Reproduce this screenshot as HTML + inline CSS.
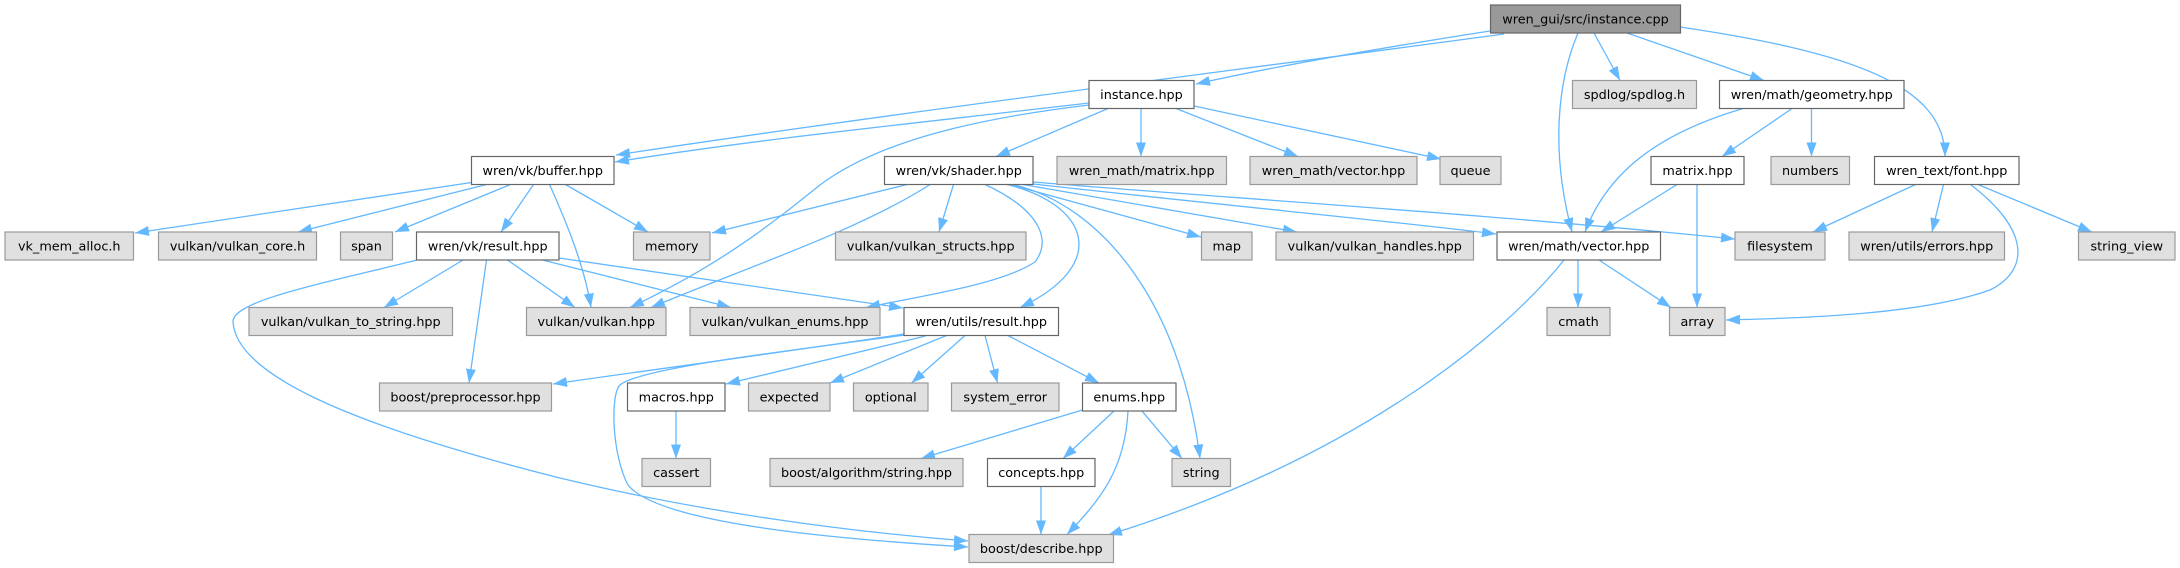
<!DOCTYPE html>
<html><head><meta charset="utf-8"><style>
html,body{margin:0;padding:0;background:#fff;}
svg{display:block;}
text{font-family:"DejaVu Sans","Liberation Sans",sans-serif;font-size:12.8px;fill:#000;text-anchor:middle;}
.w{fill:#fff;stroke:#666;stroke-width:1.2;}
.g{fill:#e0e0e0;stroke:#999;stroke-width:1.2;}
.r{fill:#999;stroke:#666;stroke-width:1.2;}
.e{fill:none;stroke:#63b8ff;stroke-width:1.3;marker-end:url(#a);}
</style></head><body>
<svg width="2180" height="568" viewBox="0 0 2180 568" xmlns="http://www.w3.org/2000/svg">
<defs><marker id="a" markerUnits="userSpaceOnUse" markerWidth="15" markerHeight="11" refX="14" refY="5.5" orient="auto"><path d="M0,0.5 L14,5.5 L0,10.5 z" fill="#63b8ff"/></marker></defs>
<rect width="2180" height="568" fill="#fff"/>
<!-- edges -->
<path class="e" d="M1490,31 C1400,45 1280,65 1196,84"/>
<path class="e" d="M1504,34 C1200,75 900,112 616,155"/>
<path class="e" d="M1089,103 C900,125 750,140 615,162"/>
<path class="e" d="M1108,108.5 L996,156.5"/>
<path class="e" d="M1141,108.5 L1141,156.5"/>
<path class="e" d="M1176,108.5 L1298,156.5"/>
<path class="e" d="M1194,106 L1441,159"/>
<path class="e" d="M1089,105 C980,118 880,140 820,185 C770,225 720,265 630,307.5"/>
<path class="e" d="M1578,33 C1558,80 1550,150 1572,232"/>
<path class="e" d="M1594,33 L1620,80.5"/>
<path class="e" d="M1627,33 L1764,80.5"/>
<path class="e" d="M1680,27 C1850,52 1945,85 1945,156.5"/>
<path class="e" d="M1743,108.5 C1670,130 1610,165 1585,232"/>
<path class="e" d="M1792,108.5 L1722,156.5"/>
<path class="e" d="M1811.5,108.5 L1811.5,156.5"/>
<path class="e" d="M1677,184.5 L1601,232"/>
<path class="e" d="M1697,184.5 L1697,307.5"/>
<path class="e" d="M1915.5,184.5 L1813,232"/>
<path class="e" d="M1943.5,184.5 L1932,232"/>
<path class="e" d="M1978,184.5 L2092,232"/>
<path class="e" d="M1970.5,184.5 C2030,230 2030,270 1990,290 C1920,315 1800,318 1726,320"/>
<path class="e" d="M1578,260 L1578,307.5"/>
<path class="e" d="M1599,260 L1671,307.5"/>
<path class="e" d="M1564,260 C1500,340 1350,460 1108,535"/>
<path class="e" d="M907,184.5 L712,233"/>
<path class="e" d="M930,184.5 C860,230 740,270 651,307.5"/>
<path class="e" d="M953.5,184.5 L939,232"/>
<path class="e" d="M985,184.5 C1040,210 1052,240 1035,262 C1000,285 920,296 866,307.5"/>
<path class="e" d="M1007,184.5 C1090,205 1110,265 1020,307.5"/>
<path class="e" d="M1013,184.5 C1100,205 1180,300 1200,458.5"/>
<path class="e" d="M1010,184.5 L1201,237"/>
<path class="e" d="M1020,184 L1297,232"/>
<path class="e" d="M1033,182 C1200,196 1500,215 1735,239"/>
<path class="e" d="M1033,184 C1250,208 1400,222 1496,234"/>
<path class="e" d="M471.5,182.5 L135,233"/>
<path class="e" d="M486.5,184.5 L298,232"/>
<path class="e" d="M510.5,184.5 L395,232"/>
<path class="e" d="M533.5,184.5 L501,232"/>
<path class="e" d="M549.5,184.5 C570,230 585,270 591,307.5"/>
<path class="e" d="M565.5,184.5 L648,232"/>
<path class="e" d="M463,260 L384,307.5"/>
<path class="e" d="M486.5,260 L469,383"/>
<path class="e" d="M507.5,260 L575,307.5"/>
<path class="e" d="M542.5,260 L731,307.5"/>
<path class="e" d="M559,258 L903,308"/>
<path class="e" d="M417,260 C330,282 232,300 233,322 C236,370 330,420 560,478 C700,512 850,532 968,541"/>
<path class="e" d="M904,334 C800,350 650,370 553,384"/>
<path class="e" d="M905,335 C780,352 640,368 620,385 C610,395 612,455 628,485 C660,525 850,540 968,547"/>
<path class="e" d="M925.5,336 L726,384"/>
<path class="e" d="M946.5,335.5 L830,383"/>
<path class="e" d="M965,335.5 L911.5,383"/>
<path class="e" d="M985,335.5 L997.5,383"/>
<path class="e" d="M1008,335.5 L1099,383"/>
<path class="e" d="M1082.5,410 L921,458.5"/>
<path class="e" d="M1114,411 L1063,458.5"/>
<path class="e" d="M1128,411 C1125,470 1100,500 1067,534.5"/>
<path class="e" d="M1142,411 L1182,458.5"/>
<path class="e" d="M1041,486.5 L1041,534.5"/>
<path class="e" d="M676,411 L676,458.5"/>
<!-- nodes row 1 -->
<rect class="r" x="1490.5" y="5" width="190" height="28"/><text x="1585.5" y="23.6">wren_gui/src/instance.cpp</text>
<!-- row 2 -->
<rect class="w" x="1089" y="80.5" width="105" height="28"/><text x="1141.5" y="99.1">instance.hpp</text>
<rect class="g" x="1572.5" y="80.5" width="124" height="28"/><text x="1634.5" y="99.1">spdlog/spdlog.h</text>
<rect class="w" x="1719.5" y="80.5" width="184.5" height="28"/><text x="1811.75" y="99.1">wren/math/geometry.hpp</text>
<!-- row 3 -->
<rect class="w" x="471.5" y="156.5" width="142.5" height="28"/><text x="542.75" y="175.1">wren/vk/buffer.hpp</text>
<rect class="w" x="884.5" y="156.5" width="148.5" height="28"/><text x="958.75" y="175.1">wren/vk/shader.hpp</text>
<rect class="g" x="1057" y="156.5" width="169.5" height="28"/><text x="1141.75" y="175.1">wren_math/matrix.hpp</text>
<rect class="g" x="1250" y="156.5" width="167" height="28"/><text x="1333.5" y="175.1">wren_math/vector.hpp</text>
<rect class="g" x="1440" y="156.5" width="61" height="28"/><text x="1470.5" y="175.1">queue</text>
<rect class="w" x="1651" y="156.5" width="93" height="28"/><text x="1697.5" y="175.1">matrix.hpp</text>
<rect class="g" x="1771" y="156.5" width="78.5" height="28"/><text x="1810.25" y="175.1">numbers</text>
<rect class="w" x="1874.5" y="156.5" width="144.5" height="28"/><text x="1946.75" y="175.1">wren_text/font.hpp</text>
<!-- row 4 -->
<rect class="g" x="5" y="232" width="128.5" height="28"/><text x="69.25" y="250.6">vk_mem_alloc.h</text>
<rect class="g" x="158.5" y="232" width="158" height="28"/><text x="237.5" y="250.6">vulkan/vulkan_core.h</text>
<rect class="g" x="340.5" y="232" width="52" height="28"/><text x="366.5" y="250.6">span</text>
<rect class="w" x="416.5" y="232" width="142.5" height="28"/><text x="487.75" y="250.6">wren/vk/result.hpp</text>
<rect class="g" x="633.5" y="232" width="76.5" height="28"/><text x="671.75" y="250.6">memory</text>
<rect class="g" x="835.5" y="232" width="190.5" height="28"/><text x="930.75" y="250.6">vulkan/vulkan_structs.hpp</text>
<rect class="g" x="1201.5" y="232" width="50.5" height="28"/><text x="1226.75" y="250.6">map</text>
<rect class="g" x="1276" y="232" width="197.5" height="28"/><text x="1374.75" y="250.6">vulkan/vulkan_handles.hpp</text>
<rect class="w" x="1497" y="232" width="163.5" height="28"/><text x="1578.75" y="250.6">wren/math/vector.hpp</text>
<rect class="g" x="1735" y="232" width="90" height="28"/><text x="1780" y="250.6">filesystem</text>
<rect class="g" x="1849" y="232" width="155.5" height="28"/><text x="1926.75" y="250.6">wren/utils/errors.hpp</text>
<rect class="g" x="2078.5" y="232" width="96.5" height="28"/><text x="2126.75" y="250.6">string_view</text>
<!-- row 5 -->
<rect class="g" x="249" y="307.5" width="203.5" height="28"/><text x="350.75" y="326.1">vulkan/vulkan_to_string.hpp</text>
<rect class="g" x="526.5" y="307.5" width="139.5" height="28"/><text x="596.25" y="326.1">vulkan/vulkan.hpp</text>
<rect class="g" x="690" y="307.5" width="190" height="28"/><text x="785" y="326.1">vulkan/vulkan_enums.hpp</text>
<rect class="w" x="904" y="307.5" width="154.5" height="28"/><text x="981.25" y="326.1">wren/utils/result.hpp</text>
<rect class="g" x="1547" y="307.5" width="63" height="28"/><text x="1578.5" y="326.1">cmath</text>
<rect class="g" x="1669.5" y="307.5" width="55.5" height="28"/><text x="1697.25" y="326.1">array</text>
<!-- row 6 -->
<rect class="g" x="379.5" y="383" width="172" height="28"/><text x="465.5" y="401.6">boost/preprocessor.hpp</text>
<rect class="w" x="627.5" y="383" width="97.5" height="28"/><text x="676.25" y="401.6">macros.hpp</text>
<rect class="g" x="748.5" y="383" width="81.5" height="28"/><text x="789.25" y="401.6">expected</text>
<rect class="g" x="853.5" y="383" width="74.5" height="28"/><text x="890.75" y="401.6">optional</text>
<rect class="g" x="951.5" y="383" width="107.5" height="28"/><text x="1005.25" y="401.6">system_error</text>
<rect class="w" x="1082.5" y="383" width="93.5" height="28"/><text x="1129.25" y="401.6">enums.hpp</text>
<!-- row 7 -->
<rect class="g" x="642" y="458.5" width="68.5" height="28"/><text x="676.25" y="477.1">cassert</text>
<rect class="g" x="770" y="458.5" width="193" height="28"/><text x="866.5" y="477.1">boost/algorithm/string.hpp</text>
<rect class="w" x="987.5" y="458.5" width="107.5" height="28"/><text x="1041.25" y="477.1">concepts.hpp</text>
<rect class="g" x="1172" y="458.5" width="58.5" height="28"/><text x="1201.25" y="477.1">string</text>
<!-- row 8 -->
<rect class="g" x="969" y="534.5" width="144.5" height="28"/><text x="1041.25" y="553.1">boost/describe.hpp</text>
</svg>
</body></html>
